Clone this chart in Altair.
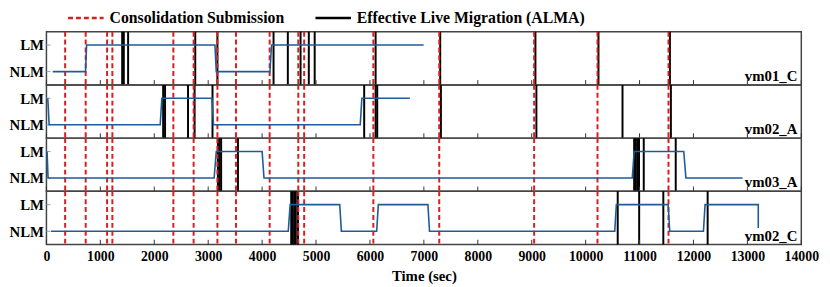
import altair as alt
import pandas as pd

PANELS = ["vm01_C", "vm02_A", "vm03_A", "vm02_C"]
LEGEND = ["Consolidation Submission", "Effective Live Migration (ALMA)"]

# Consolidation submissions (same in every panel), seconds
RED = [347, 728, 1125, 1223, 2354, 2730, 3171, 3515, 4140, 4671, 4780,
       6063, 7285, 9045, 10220, 11537]

# Effective live migrations per VM, seconds
BLACK = {
    "vm01_C": [1405, 1435, 1515, 2760, 3171, 4212, 4477, 4713, 4866, 4975,
               6105, 7303, 9069, 10238, 11563],
    "vm02_A": [2165, 2200, 2626, 2748, 3080, 5893, 6105, 6135, 7316, 9087,
               10684, 11581],
    "vm03_A": [3180, 3210, 3240, 3552, 10900, 10930, 10960, 10990, 11078,
               11671],
    "vm02_C": [4540, 4570, 4600, 4625, 4666, 10595, 10993, 11441, 12263],
}

# VM state over time (1 = LM, 0 = NLM)
STATE_T = {
    "vm01_C": [116, 725, 745, 3125, 3150, 4145, 4175, 6995],
    "vm02_A": [25, 50, 2110, 2140, 3070, 3098, 5820, 5850, 6740],
    "vm03_A": [12, 30, 3110, 3150, 4000, 4035, 10865, 10900, 11820, 11860,
               12910],
    "vm02_C": [85, 4485, 4520, 5440, 5470, 6125, 6155, 7075, 7105, 10540,
               10570, 11530, 11560, 12185, 12215, 13202, 13202],
}
STATE_V = {
    "vm01_C": [0, 0, 1, 1, 0, 0, 1, 1],
    "vm02_A": [1, 0, 0, 1, 1, 0, 0, 1, 1],
    "vm03_A": [1, 0, 0, 1, 1, 0, 0, 1, 1, 0, 0],
    "vm02_C": [0, 0, 1, 1, 0, 0, 1, 1, 0, 0, 1, 1, 0, 0, 1, 1, 0.12],
}

XTICKS = list(range(0, 14001, 1000))
LEVELS = [0, 1]

W, H = 766, 54
FONT = "Liberation Serif"
RED_C = "#d81e1e"
BLUE_C = "#1f5b99"

xscale = alt.Scale(domain=[0, 14000], nice=False, zero=False)
yscale = alt.Scale(domain=[-0.5, 1.5], nice=False, zero=False)

legend = alt.Legend(
    title=None, orient="none", legendX=32, legendY=-22, direction="horizontal",
    symbolType="M-3,0H3", symbolSize=144, symbolStrokeWidth=2.5,
    labelFont=FONT, labelFontSize=16, labelFontWeight="bold",
    labelColor="black", columnPadding=26, labelOffset=16, padding=0,
    symbolOffset=0, labelLimit=500,
)


def panel(name, last):
    ev = pd.DataFrame({
        "t": BLACK[name] + RED,
        "type": [LEGEND[1]] * len(BLACK[name]) + [LEGEND[0]] * len(RED),
    })
    if last:
        xaxis = alt.Axis(values=XTICKS, format="d", labelFont=FONT,
                         labelFontWeight="bold",
                         labelFontSize=14, labelColor="black", tickSize=0,
                         domain=False, grid=False, title="Time (sec)",
                         titleFont=FONT, titleFontSize=15,
                         titleFontWeight="bold", titleColor="black",
                         labelPadding=5, titlePadding=5, labelFlush=False)
    else:
        xaxis = None
    yaxis = alt.Axis(values=LEVELS,
                     labelExpr="datum.value == 1 ? 'LM' : 'NLM'",
                     tickSize=0, domain=False, grid=False, title=None,
                     labelFont=FONT, labelFontSize=15, labelFontWeight="bold",
                     labelColor="black", labelPadding=3)

    rules = alt.Chart(ev).mark_rule(strokeWidth=2).encode(
        x=alt.X("t:Q", scale=xscale, axis=xaxis),
        color=alt.Color("type:N",
                        scale=alt.Scale(domain=LEGEND, range=[RED_C, "black"]),
                        legend=legend),
        strokeDash=alt.StrokeDash("type:N",
                                  scale=alt.Scale(domain=LEGEND,
                                                  range=[[5, 3], [1, 0]]),
                                  legend=legend),
    )
    xt = alt.Chart(pd.DataFrame({"t": XTICKS})).mark_rule(
        color="#333", strokeWidth=1).encode(
        x=alt.X("t:Q", scale=xscale), y=alt.datum(-0.5), y2=alt.datum(-0.32))
    yt = alt.Chart(pd.DataFrame({"v": LEVELS})).mark_rule(
        color="#999", strokeWidth=1).encode(
        y=alt.Y("v:Q", scale=yscale, axis=yaxis),
        x=alt.datum(0), x2=alt.datum(75))
    st = pd.DataFrame({"t": STATE_T[name], "v": STATE_V[name],
                       "i": list(range(len(STATE_T[name])))})
    line = alt.Chart(st).mark_line(color=BLUE_C, strokeWidth=1.6).encode(
        x=alt.X("t:Q", scale=xscale),
        y=alt.Y("v:Q", scale=yscale, axis=yaxis),
        order="i:Q")
    lab = alt.Chart(pd.DataFrame({"name": [name]})).mark_text(
        align="right", baseline="alphabetic", font=FONT, fontSize=15,
        fontWeight="bold", color="black").encode(
        x=alt.value(W - 4), y=alt.value(H - 4), text="name:N")
    return alt.layer(rules, xt, yt, line, lab).properties(width=W, height=H)


chart = alt.vconcat(
    *[panel(n, i == len(PANELS) - 1) for i, n in enumerate(PANELS)],
    spacing=0, bounds="flush",
).properties(
    padding={"left": 0, "top": 0, "right": 2, "bottom": 0}
).configure_view(
    stroke="#444", strokeWidth=1.5
)

chart.save("out.html", embed_options={"renderer": "svg", "actions": False})
